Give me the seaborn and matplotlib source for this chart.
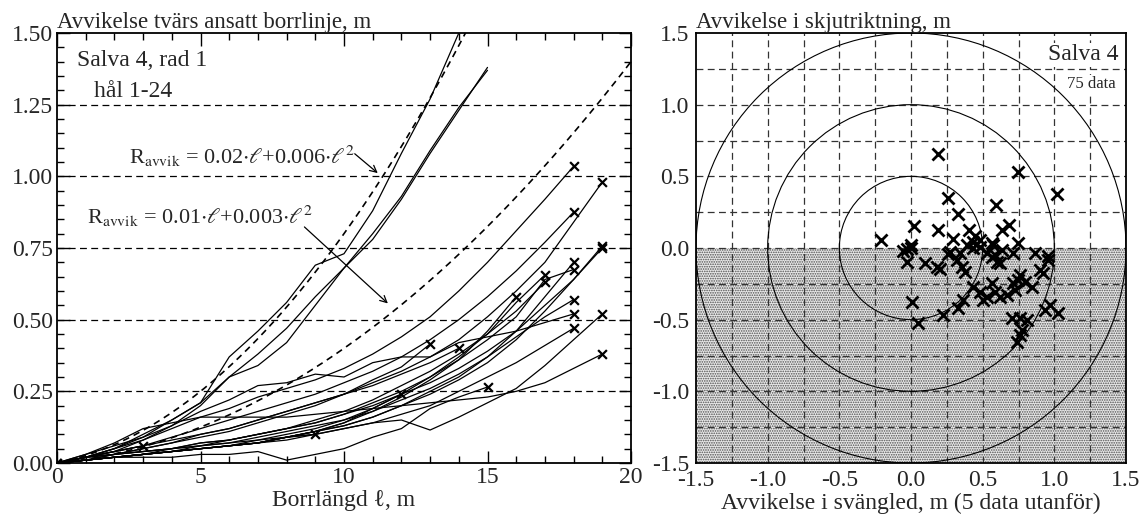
import numpy as np
import pandas as pd
import matplotlib
matplotlib.use("Agg")
import matplotlib.pyplot as plt
import seaborn as sns
from matplotlib.patches import Circle
from matplotlib.ticker import MultipleLocator, FormatStrFormatter

# --- data: deviation per metre drilled, hole 1-24 ---
h01 = [0, .02, .05, .09, .15, .21, .37, .46, .56, .69, .73, .88, 1.08, 1.27, 1.50]
h02 = [0, .02, .05, .10, .15, .21, .30, .38, .47, .58, .68, .78, .92, 1.08, 1.23, 1.38]
h03 = [0, .02, .04, .08, .13, .20, .30, .34, .42, .55, .68, .80, .93, 1.09, 1.24, 1.37]
h04 = [0, .02, .05, .08, .12, .16, .19, .23, .26, .29, .33, .38, .44, .51, .60, .70, .81, .92, 1.035]
h05 = [0, .01, .03, .05, .07, .10, .12, .15, .18, .21, .24, .28, .32, .37, .43, .51, .60, .70, .84, .98]
h06 = [0, .02, .04, .06, .09, .12, .15, .18, .21, .24, .28, .32, .37, .43, .50, .58, .67, .77, .875]
h07 = [0, .01, .02, .03, .04, .05, .06, .07, .09, .11, .13, .16, .20, .25, .30, .37, .46, .58, .70]
h08 = [0, .02, .03, .04, .05, .07, .08, .10, .12, .14, .17, .21, .25, .30, .36, .43, .51, .64, .675]
h09 = [0, .01, .02, .03, .04, .06, .07, .09, .11, .13, .15, .18, .22, .26, .31, .37, .44, .51, .57]
h10 = [0, .03, .06, .09, .13, .18, .22, .27, .28, .31, .30, .35, .37, .37, .42, .44, .46, .49, .52]
h11 = [0, .01, .02, .03, .04, .05, .06, .07, .08, .10, .12, .14, .17, .20, .25, .30, .35, .41, .47]
h12 = [0, .01, .02, .03, .04, .05, .06, .07, .09, .11, .13, .16, .20, .24, .29, .35, .43, .53, .64, .757]
h13 = [0, .02, .03, .04, .05, .07, .08, .10, .12, .14, .17, .20, .24, .28, .33, .39, .46, .55, .64, .75]
h14 = [0, .01, .02, .03, .04, .05, .06, .07, .09, .10, .12, .14, .15, .115, .16, .21, .26, .34, .43, .52]
h15 = [0, .03, .07, .12, .14, .16, .16, .16, .16, .17, .18, .19, .20, .21, .22, .23, .25, .28, .33, .38]
h16 = [0, .02, .03, .04, .05, .06, .07, .08, .10, .12, .15, .19, .24, .30, .37, .45, .56, .656]
h17 = [0, .01, .02, .03, .05, .06, .08, .10, .12, .15, .18, .22, .27, .32, .38, .45, .53, .63]
h18 = [0, .01, .02, .03, .04, .05, .06, .07, .09, .11, .14, .18, .23, .29, .36, .46, .58]
h19 = [0, .01, .02, .02, .02, .03, .03, .04, .01, .03, .05, .09, .12, .19, .23, .265]
h20 = [0, .02, .04, .06, .08, .10, .12, .15, .18, .21, .24, .27, .31, .35, .40]
h21 = [0, .01, .03, .05, .07, .09, .11, .14, .17, .20, .24, .29, .335, .415]
h22 = [0, .01, .02, .03, .04, .05, .06, .07, .09, .11, .14, .19, .24]
h23 = [0, .01, .02, .03, .04, .05, .06, .08, .09, .10]
h24 = [0, .02, .04, .06]
holes = [h01, h02, h03, h04, h05, h06, h07, h08, h09, h10, h11, h12,
         h13, h14, h15, h16, h17, h18, h19, h20, h21, h22, h23, h24]
unmarked = [1, 2, 3]  # holes running off the top, no end cross

# limit curves R = a*l + b*l^2
limit_a = [0.02, 0.01]
limit_b = [0.006, 0.003]

# end-of-hole deviation: sideways (svängled) and forward (skjutriktning)
svang = [0.186, 0.744, 1.017, 0.26, 0.593, 0.33, 0.021, 0.683, 0.188, -0.207,
         0.633, 0.407, 0.293, 0.447, 0.48, 0.749, 0.563, 0.0, 0.0, -0.03,
         0.26, 0.34, 0.435, 0.528, 0.586, 0.714, 0.865, 0.958, -0.054, -0.03,
         0.098, 0.18, 0.2, 0.272, 0.319, 0.354, 0.377, 0.388, 0.435, 0.481,
         0.563, 0.598, 0.574, 0.633, 0.621, 0.9, 0.923, 0.958, 0.435, 0.481,
         0.563, 0.586, 0.505, 0.528, 0.621, 0.668, 0.726, 0.749, 0.76, 0.795,
         0.842, 0.714, 0.005, 0.051, 0.226, 0.33, 0.365, 0.702, 0.76, 0.807,
         0.772, 0.76, 0.737, 0.935, 0.97, 1.028]
skjut = [0.656, 0.532, 0.377, 0.35, 0.297, 0.237, 0.156, 0.163, 0.128, 0.058,
         0.126, 0.123, 0.06, 0.084, 0.056, 0.035, 0.037, 0.0, 0.02, -0.01,
         -0.04, -0.037, 0.0, -0.037, -0.049, -0.033, -0.033, -0.056, -0.022, -0.095,
         -0.107, -0.135, -0.149, -0.026, -0.084, -0.13, -0.165, 0.021, 0.044, 0.009,
         -0.061, -0.095, 0.021, -0.014, -0.107, -0.153, -0.177, -0.084, -0.27, -0.305,
         -0.246, -0.305, -0.363, -0.34, -0.34, -0.328, -0.293, -0.223, -0.188, -0.235,
         -0.27, -0.246, -0.375, -0.526, -0.467, -0.42, -0.363, -0.49, -0.49, -0.502,
         -0.572, -0.607, -0.654, -0.433, -0.398, -0.456]
radii = [0.5, 1.0, 1.5]

sns.set_theme(style="ticks")
plt.rcParams["font.family"] = ["Liberation Serif", "DejaVu Serif"]
plt.rcParams["mathtext.fontset"] = "stix"
plt.rcParams["axes.unicode_minus"] = False
plt.rcParams["hatch.linewidth"] = 0.8
FS = 17

rows = []
for i, prof in enumerate(holes, start=1):
    for l, r in enumerate(prof):
        rows.append({"hole": i, "l": l, "r": r})
df = pd.DataFrame(rows)
ends = df.groupby("hole").tail(1)
ends = ends[~ends["hole"].isin(unmarked)]

fig = plt.figure(figsize=(11.44, 5.2), dpi=100)
ax1 = fig.add_axes([57 / 1144, 57 / 520, 574 / 1144, 430 / 520])
ax2 = fig.add_axes([696 / 1144, 57 / 520, 430 / 1144, 430 / 520])
dash = (0, (5.5, 3.5))

# --- left panel ---
for y in np.arange(0.25, 1.5, 0.25):
    ax1.axhline(y, color="black", lw=0.9, ls=dash, zorder=1)
sns.lineplot(data=df, x="l", y="r", units="hole", estimator=None, color="black",
             lw=0.9, ax=ax1, legend=False, zorder=3)
sns.scatterplot(data=ends, x="l", y="r", marker="x", color="black", s=40,
                linewidth=1.6, ax=ax1, zorder=4)
ax1.scatter([0], [0], marker="x", color="black", s=40, linewidth=2, zorder=4)
ll = np.linspace(0, 20, 200)
for a, b in zip(limit_a, limit_b):
    ax1.plot(ll, a * ll + b * ll ** 2, color="black", lw=1.2, ls=(0, (4, 3)), zorder=3)

ax1.set_xlim(0, 20)
ax1.set_ylim(0, 1.5)
ax1.xaxis.set_major_locator(MultipleLocator(5))
ax1.xaxis.set_minor_locator(MultipleLocator(1))
ax1.yaxis.set_major_locator(MultipleLocator(0.25))
ax1.yaxis.set_minor_locator(MultipleLocator(0.05))
ax1.yaxis.set_major_formatter(FormatStrFormatter("%.2f"))
ax1.tick_params(which="both", direction="in", top=True, right=True, labelsize=FS,
                color="black", pad=3)
ax1.tick_params(which="major", length=9, width=1)
ax1.tick_params(which="minor", length=5, width=1)
ax1.set_xlabel("Borrlängd ℓ, m", fontsize=FS, labelpad=1)
ax1.set_ylabel("")
ax1.set_title("Avvikelse tvärs ansatt borrlinje, m", loc="left", fontsize=16.5, pad=2)
ax1.text(0.7, 1.44, "Salva 4, rad 1", fontsize=FS, va="top")
ax1.text(2.65, 1.26, "hål 1-24", fontsize=FS, va="bottom", ha="center")
ax1.text(6.45, 1.07, r"R$_{\rm avvik}$ = 0.02$\cdot\ell$+0.006$\cdot\ell^{2}$",
         fontsize=16, ha="center", va="center")
ax1.text(5.0, 0.86, r"R$_{\rm avvik}$ = 0.01$\cdot\ell$+0.003$\cdot\ell^{2}$",
         fontsize=16, ha="center", va="center")
ax1.annotate("", xy=(11.25, 1.005), xytext=(10.3, 1.085),
             arrowprops=dict(arrowstyle="->", color="black", lw=0.9))
ax1.annotate("", xy=(11.6, 0.55), xytext=(8.55, 0.83),
             arrowprops=dict(arrowstyle="->", color="black", lw=0.9))
for s in ax1.spines.values():
    s.set_linewidth(1.3)
    s.set_color("black")

# --- right panel ---
ax2.fill_between([-1.5, 1.5], -1.5, 0, facecolor="#e8e8e8", hatch=".......",
                 edgecolor="#505050", linewidth=0, zorder=0)
for v in np.arange(-1.25, 1.5, 0.25):
    ax2.axhline(v, color="#333333", lw=0.9, ls=dash, zorder=1)
    ax2.axvline(v, color="#333333", lw=0.9, ls=dash, zorder=1)
for r in radii:
    ax2.add_patch(Circle((0, 0), r, fill=False, color="black", lw=0.8, zorder=2))
sns.scatterplot(x=svang, y=skjut, marker="x", color="black", s=75, linewidth=2,
                ax=ax2, zorder=4)
ax2.set_xlim(-1.5, 1.5)
ax2.set_ylim(-1.5, 1.5)
ax2.xaxis.set_major_locator(MultipleLocator(0.5))
ax2.yaxis.set_major_locator(MultipleLocator(0.5))
ax2.xaxis.set_major_formatter(FormatStrFormatter("%.1f"))
ax2.yaxis.set_major_formatter(FormatStrFormatter("%.1f"))
ax2.tick_params(length=0, labelsize=FS, pad=5)
ax2.set_xlabel("Avvikelse i svängled, m (5 data utanför)", fontsize=FS, labelpad=1)
ax2.set_title("Avvikelse i skjutriktning, m", loc="left", fontsize=16.5, pad=2)
box = dict(facecolor="white", edgecolor="none", pad=1)
ax2.text(1.45, 1.42, "Salva 4", fontsize=FS, ha="right", va="top", bbox=box, zorder=5)
ax2.text(1.43, 1.2, "75 data", fontsize=12, ha="right", va="top", bbox=box, zorder=5)
for s in ax2.spines.values():
    s.set_linewidth(1.3)
    s.set_color("black")

fig.savefig("out.png", dpi=100)
